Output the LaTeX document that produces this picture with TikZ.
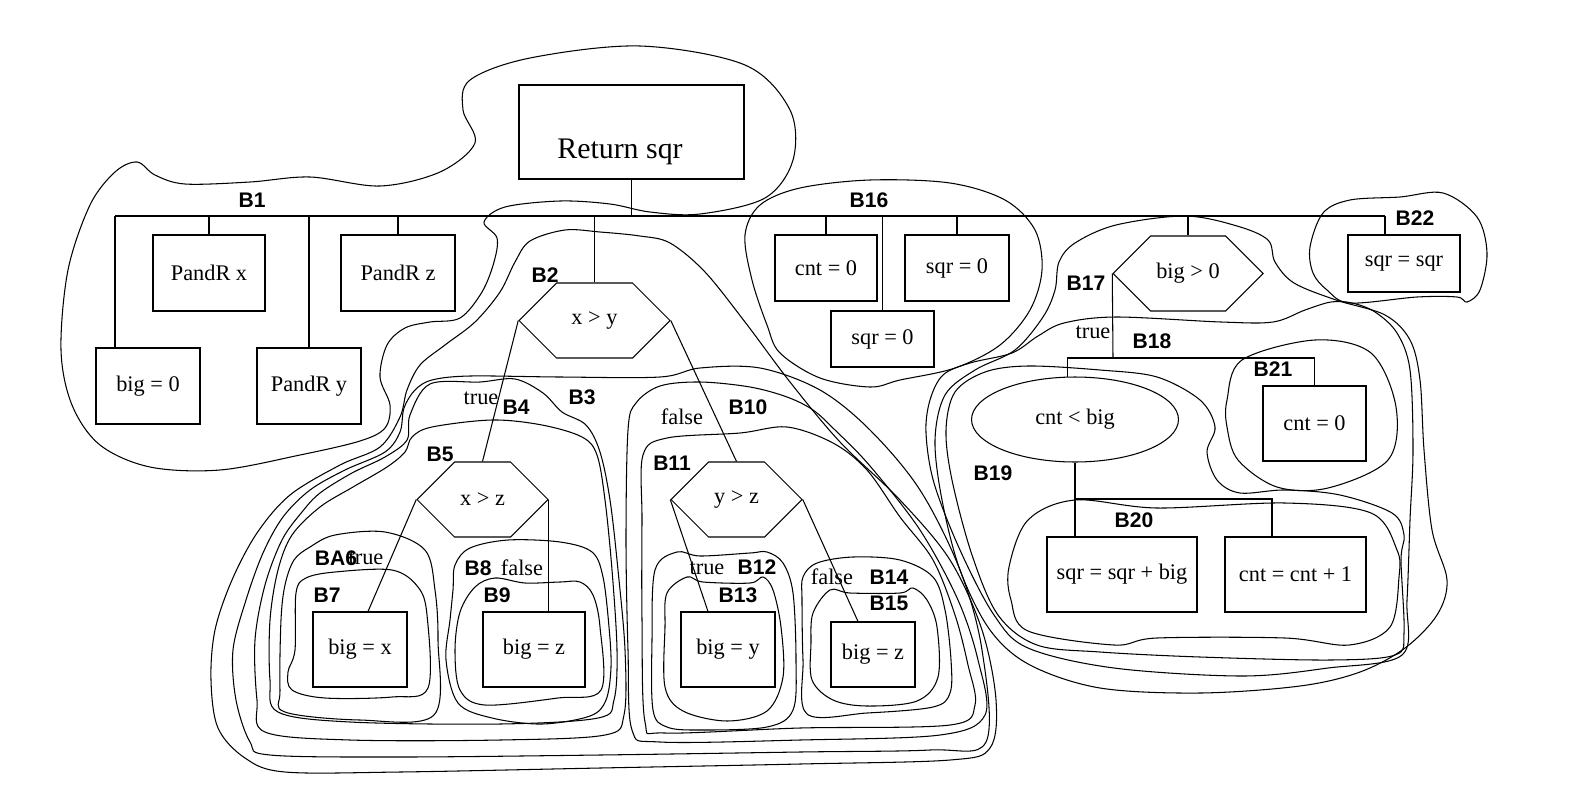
\documentclass[tikz,border=0pt]{standalone}
\usepackage{fontspec}
\setmainfont{Liberation Serif}
\setsansfont{Liberation Sans}
\usetikzlibrary{shapes.geometric,shapes.symbols}
\tikzset{
	box/.style 2 args={draw, rectangle, inner sep=0pt, minimum width=#1*0.02cm, minimum height=#2*0.02cm, font=\fontsize{12.7}{15}\selectfont},
	hexa/.style 2 args={draw, signal, signal to=west and east, signal pointer angle=90, inner sep=0pt, minimum width=#1*0.02cm, minimum height=#2*0.02cm, font=\fontsize{12.7}{15}\selectfont},
	oval/.style={draw, ellipse, inner sep=0pt, minimum width=4.14cm, minimum height=1.7cm, font=\fontsize{12.7}{15}\selectfont},
	blab/.style={font=\sffamily\bfseries\fontsize{12}{14}\selectfont, inner sep=0pt},
	tlab/.style={font=\fontsize{12.7}{15}\selectfont, inner sep=0pt},
	blob/.style={smooth cycle, tension=0.55}
}
\begin{document}
\begin{tikzpicture}[x=0.02cm, y=-0.02cm, line width=0.6pt]
	\useasboundingbox (0,0) rectangle (1571,805);
	% statements
	\node[box={225}{94}] (ret) at (631.5,132) {};
	\node[tlab, font=\fontsize{17}{20}\selectfont] (rettxt) at (620,152) {Return sqr};
	\node[box={112}{76}] (pandrx) at (209,273) {PandR x};
	\node[box={114}{76}] (pandrz) at (398,273) {PandR z};
	\node[box={104}{76}] (big0) at (148,386) {big = 0};
	\node[box={104}{76}] (pandry) at (309,386) {PandR y};
	\node[box={102}{66}] (cnt16) at (826,268) {cnt = 0};
	\node[box={104}{66}] (sqr16a) at (957,268) {sqr = 0};
	\node[box={103}{56}] (sqr16b) at (882.5,339) {sqr = 0};
	\node[box={112}{57}] (sqrsqr) at (1404,263.5) {sqr = sqr};
	\node[box={103}{75}] (cnt21) at (1314.5,423.5) {cnt = 0};
	\node[box={150}{75}] (sqrbig) at (1122,574.5) {sqr = sqr + big};
	\node[box={141}{75}] (cntinc) at (1295.5,574.5) {cnt = cnt + 1};
	\node[box={94}{75}] (bigx) at (360,649.5) {big = x};
	\node[box={102}{75}] (bigz) at (534,649.5) {big = z};
	\node[box={94}{75}] (bigy) at (728,649.5) {big = y};
	\node[box={84}{65}] (bigzz) at (873,654.5) {big = z};
	% conditions
	\node[hexa={151}{75}] (xy) at (594.5,320.5) {x > y};
	\node[hexa={131}{75}] (xz) at (482.5,499.5) {x > z};
	\node[hexa={131}{75}] (yz) at (736.5,499.5) {y > z};
	\node[hexa={150}{75}] (bigzero) at (1188,273.5) {big > 0};
	\node[oval] (cntlt) at (1075,419.5) {cnt < big};

	% tree lines
	\coordinate (busL) at (115,216);
	\coordinate (busR) at (1385,216);
	\draw (ret.south) -- (ret.south |- busL);
	\draw (busL) -- (busR);
	\draw (busL) -- (busL |- big0.north);
	\draw (busR) -- (busR |- sqrsqr.north);
	\foreach \n in {pandrx,pandry,pandrz,xy,cnt16,sqr16a,sqr16b,bigzero}{
		\draw (\n.north) -- (\n.north |- busL);
	}
	\draw (xy.west) -- (xz.north);
	\draw (xy.east) -- (yz.north);
	\draw (xz.west) -- ([xshift=0.16cm]bigx.north);
	\draw (xz.east) -- (xz.east |- bigz.north);
	\draw (yz.west) -- ([xshift=-0.4cm]bigy.north);
	\draw (yz.east) -- ([xshift=-0.3cm]bigzz.north);
	\coordinate (j18) at (1113,358);
	\coordinate (j20) at (1075,499);
	\draw (bigzero.west) -- (j18);
	\draw (cntlt.100) |- (j18) -| (cnt21.north);
	\draw (cntlt.south) -- (cntlt.south |- sqrbig.north);
	\draw (j20) -| ([xshift=-0.47cm]cntinc.north);

	% labels
	\foreach \name/\x/\y in {B1/252/200, B2/545/275, B3/582/397, B4/516/407, B5/440/454, BA6/336/558, B7/327/595, B8/478/568, B9/497/595, B10/748/407, B11/672/463, B12/757/567, B13/738/595, B14/889/577, B15/889/603, B16/869/200, B17/1086/283, B18/1152/341, B19/993/473, B20/1134/520, B21/1273/369, B22/1415/218}{
		\node[blab] (l\name) at (\x,\y) {\name};
	}
	\node[tlab] (t4) at (481,398) {true};
	\node[tlab] (f10) at (682,417) {false};
	\node[tlab] (t6) at (366,558) {true};
	\node[tlab] (f8) at (522,568) {false};
	\node[tlab] (t12) at (707,568) {true};
	\node[tlab] (f14) at (832,577) {false};
	\node[tlab] (t18) at (1093,332) {true};

	% blocks, left part
	\draw plot[blob] coordinates {(61,350) (68,270) (90,205) (115,172) (137,162) (155,175) (185,184) (250,182) (310,177) (380,186) (440,172) (475,143) (463,110) (470,80) (530,58) (640,46) (745,65) (790,110) (793,160) (765,198) (700,214) (650,212) (610,204) (560,201) (505,207) (484,222) (497,238) (494,262) (482,292) (460,318) (430,322) (405,328) (387,345) (380,377) (390,405) (385,428) (360,441) (300,455) (220,470) (150,467) (100,445) (72,405)};
	\draw plot[blob] coordinates {(515,262) (530,241) (565,230) (600,232) (640,236) (670,243) (705,272) (745,322) (790,382) (840,442) (900,500) (950,560) (982,630) (996,700) (990,748) (950,760) (800,764) (600,768) (400,772) (285,772) (245,758) (218,728) (211,680) (215,630) (232,580) (257,533) (290,495) (340,465) (380,447) (400,417) (407,390) (420,365) (445,345) (475,322) (500,292)};
	\draw plot[blob] coordinates {(432,380) (470,376) (560,377) (660,377) (700,368) (760,368) (820,390) (870,430) (920,490) (960,570) (982,650) (986,742) (930,750) (800,752) (600,755) (400,757) (270,755) (250,742) (236,700) (233,650) (246,600) (263,553) (283,517) (310,490) (345,470) (385,452) (400,432) (404,408) (415,390)};
	\draw plot[blob] coordinates {(430,384) (480,382) (515,379) (543,393) (562,412) (586,425) (600,452) (610,500) (618,570) (625,650) (624,715) (605,735) (500,740) (350,740) (265,732) (257,700) (255,640) (265,585) (282,540) (302,512) (320,493) (352,473) (385,457) (407,440) (410,415)};
	\draw plot[blob] coordinates {(412,437) (432,427) (492,420) (542,425) (582,437) (597,455) (605,500) (612,570) (617,650) (614,700) (598,718) (500,724) (350,722) (278,712) (270,680) (270,620) (278,570) (292,535) (320,507) (353,487) (387,467) (405,452)};
	\draw plot[blob] coordinates {(294,560) (310,547) (335,535) (385,532) (425,550) (435,590) (438,640) (434,715) (360,720) (285,712) (280,690) (281,620) (285,585)};
	\draw plot[blob] coordinates {(296,593) (306,578) (335,572) (392,570) (418,587) (427,615) (428,688) (392,697) (325,698) (292,690) (288,672) (295,650)};
	\draw plot[blob] coordinates {(455,565) (470,548) (508,540) (560,542) (592,552) (603,577) (609,627) (611,667) (606,700) (590,716) (542,724) (492,718) (458,703) (446,660) (450,620) (453,590)};
	\draw plot[blob] coordinates {(460,612) (475,587) (495,578) (525,583) (560,582) (580,582) (593,595) (600,627) (601,690) (558,698) (485,705) (460,690) (455,650)};
	% blocks, middle part
	\draw plot[blob] coordinates {(628,430) (636,403) (660,386) (700,382) (750,387) (787,397) (813,410) (835,430) (870,466) (920,530) (958,600) (978,660) (985,715) (940,735) (800,740) (660,742) (632,730) (628,650) (626,540)};
	\draw plot[blob] coordinates {(643,455) (667,438) (740,433) (787,427) (833,443) (867,470) (900,517) (933,560) (955,615) (968,665) (975,705) (950,725) (800,728) (665,733) (645,722) (642,620) (642,520)};
	\draw plot[blob] coordinates {(655,570) (677,552) (700,556) (750,553) (767,552) (783,563) (793,593) (796,660) (793,710) (767,727) (700,730) (667,727) (653,710) (652,640)};
	\draw plot[blob] coordinates {(667,593) (687,577) (703,582) (750,583) (763,577) (773,590) (781,627) (783,677) (767,711) (727,721) (683,711) (665,687) (665,627)};
	\draw plot[blob] coordinates {(803,577) (817,563) (853,557) (900,560) (933,577) (945,610) (951,660) (950,693) (933,707) (867,713) (807,714) (803,660) (802,600)};
	\draw plot[blob] coordinates {(813,613) (830,590) (850,593) (900,593) (913,588) (927,600) (937,627) (938,677) (917,701) (867,706) (833,700) (812,680) (811,643)};
	\draw plot[blob] coordinates {(745,235) (760,205) (800,188) (870,180) (950,183) (1005,200) (1035,230) (1042,270) (1030,310) (1000,345) (955,368) (900,380) (870,387) (820,378) (780,353) (767,325) (752,280)};
	% blocks, right part
	\draw plot[blob] coordinates {(1059,262) (1075,243) (1116,225) (1185,216) (1237,226) (1268,240) (1275,262) (1294,283) (1336,300) (1385,315) (1410,340) (1420,380) (1424,450) (1432,530) (1447,580) (1437,615) (1405,648) (1360,672) (1300,686) (1200,693) (1100,688) (1030,665) (990,630) (960,570) (942,500) (935,440) (945,395) (975,370) (1015,350) (1043,317) (1055,290)};
	\draw plot[blob] coordinates {(1038,336) (1064,323) (1116,317) (1221,322) (1273,322) (1305,310) (1331,302) (1352,303) (1375,312) (1397,333) (1410,370) (1413,450) (1410,520) (1407,600) (1402,655) (1328,668) (1242,676) (1114,668) (1028,648) (994,615) (960,550) (934,483) (926,433) (930,400) (943,375) (970,363) (1012,353)};
	\draw plot[blob] coordinates {(955,392) (985,372) (1028,366) (1100,370) (1157,377) (1200,400) (1215,427) (1207,452) (1217,480) (1240,493) (1285,490) (1340,495) (1392,513) (1404,535) (1401,560) (1404,633) (1395,655) (1330,660) (1200,657) (1100,652) (1037,645) (998,615) (972,555) (952,480) (946,430)};
	\draw plot[blob] coordinates {(1009,567) (1028,520) (1075,500) (1157,508) (1285,503) (1371,513) (1397,550) (1399,577) (1390,627) (1349,645) (1285,638) (1157,638) (1114,645) (1028,631) (1011,600)};
	\draw plot[blob] coordinates {(1227,400) (1242,360) (1315,340) (1371,353) (1396,407) (1388,460) (1328,488) (1277,487) (1238,460) (1227,427)};
	\draw plot[blob] coordinates {(1310,247) (1323,213) (1350,200) (1400,197) (1443,193) (1477,217) (1487,253) (1480,290) (1467,302) (1457,297) (1417,297) (1350,303) (1327,290) (1313,273)};
\end{tikzpicture}
\end{document}
